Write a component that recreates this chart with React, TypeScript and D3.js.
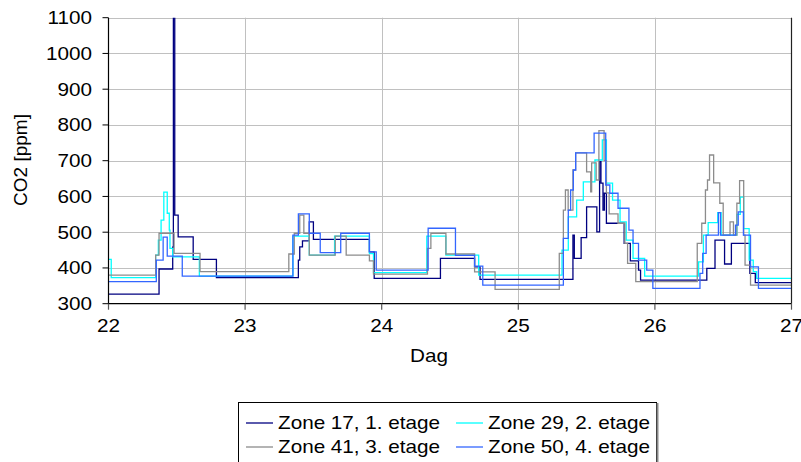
import React from "react";
import * as d3 from "d3";

// ---- data ----
const dayTicks = [22, 23, 24, 25, 26, 27];
const ppmTicks = [300, 400, 500, 600, 700, 800, 900, 1000, 1100];

const seriesNames = [
  "Zone 17, 1. etage",
  "Zone 29, 2. etage",
  "Zone 41, 3. etage",
  "Zone 50, 4. etage",
];
const seriesColors = ["#000080", "#00ffff", "#8c8c8c", "#3366ff"];

const zone17: [number, number][] = [
  [22.0, 327], [22.37, 397], [22.47, 458], [22.475, 1180], [22.485, 548], [22.51, 487],
  [22.62, 424], [22.79, 373], [23.39, 422], [23.4, 459], [23.42, 476], [23.47, 529],
  [23.5, 480], [23.91, 445], [23.945, 371], [24.43, 427], [24.68, 403], [24.72, 368],
  [25.4, 492], [25.41, 427], [25.46, 485], [25.5, 571], [25.575, 501], [25.595, 697],
  [25.605, 637], [25.62, 562], [25.63, 609], [25.645, 525], [25.775, 469], [25.82, 420],
  [25.88, 394], [25.895, 366], [26.38, 399], [26.44, 478], [26.51, 411], [26.56, 469],
  [26.695, 385], [26.735, 359], [27.0, 359],
];
const zone29: [number, number][] = [
  [22.0, 424], [22.02, 373], [22.345, 436], [22.365, 478], [22.385, 534], [22.405, 612],
  [22.43, 553], [22.445, 506], [22.45, 455], [22.47, 431], [22.665, 377], [23.35, 489],
  [23.47, 436], [23.655, 489], [23.91, 440], [23.94, 387], [24.33, 489], [24.47, 436],
  [24.71, 380], [25.32, 450], [25.366, 543], [25.427, 590], [25.476, 641], [25.561, 702],
  [25.615, 758], [25.645, 637], [25.69, 590], [25.745, 529], [25.79, 478], [25.84, 427],
  [25.925, 377], [26.32, 417], [26.355, 492], [26.39, 527], [26.46, 555], [26.485, 492],
  [26.6, 550], [26.625, 598], [26.65, 510], [26.69, 422], [26.72, 390], [26.745, 371],
  [27.0, 371],
];
const zone41: [number, number][] = [
  [22.0, 380], [22.345, 436], [22.37, 497], [22.48, 441], [22.67, 390], [23.32, 439],
  [23.36, 497], [23.4, 548], [23.43, 497], [23.47, 436], [23.66, 489], [23.74, 436],
  [23.91, 420], [23.94, 383], [24.335, 455], [24.36, 497], [24.47, 439], [24.68, 389],
  [24.83, 340], [25.3, 441], [25.33, 562], [25.345, 618], [25.365, 562], [25.4, 674],
  [25.42, 722], [25.5, 669], [25.53, 613], [25.537, 694], [25.57, 646], [25.59, 784],
  [25.628, 700], [25.645, 610], [25.665, 551], [25.73, 525], [25.78, 469], [25.8, 413],
  [25.86, 362], [26.31, 469], [26.343, 525], [26.37, 618], [26.385, 646], [26.4, 716],
  [26.43, 638], [26.475, 581], [26.5, 492], [26.55, 529], [26.575, 492], [26.6, 581],
  [26.62, 644], [26.65, 492], [26.66, 408], [26.7, 352], [27.0, 352],
];
const zone50: [number, number][] = [
  [22.0, 362], [22.35, 422], [22.4, 486], [22.43, 433], [22.54, 377], [23.35, 492],
  [23.39, 551], [23.47, 497], [23.55, 443], [23.7, 497], [23.91, 445], [23.96, 394],
  [24.34, 511], [24.54, 435], [24.68, 405], [24.74, 352], [25.33, 483], [25.366, 562],
  [25.383, 618], [25.403, 674], [25.42, 722], [25.555, 777], [25.64, 632], [25.67, 609],
  [25.73, 567], [25.81, 506], [25.84, 469], [25.88, 422], [25.94, 394], [25.985, 343],
  [26.33, 385], [26.35, 441], [26.375, 492], [26.465, 555], [26.48, 492], [26.59, 520],
  [26.61, 557], [26.648, 492], [26.7, 403], [26.758, 343], [27.0, 343],
];
const allSeries = [zone17, zone29, zone41, zone50];

// ---- layout ----
const W = 801;
const H = 462;
const left = 108.5;
const right = 791.5;
const top = 17.7;
const bottom = 303.7;
const FS = 18;
const SX = 1.15;
const FONT = "Liberation Sans, Arial, sans-serif";

function T(props: { x: number; y: number; anchor?: string; children: any; rotate?: boolean; size?: number }) {
  const { x, y, anchor = "start", children, rotate, size = FS } = props;
  const tf = rotate
    ? `translate(${x},${y}) rotate(-90)`
    : `translate(${x},${y}) scale(${SX},1)`;
  return (
    <text transform={tf} textAnchor={anchor} dominantBaseline="central" fontFamily={FONT} fontSize={size} fill="#000">
      {children}
    </text>
  );
}

export default function App() {
  const x = d3.scaleLinear().domain([22, 27]).range([left, right]);
  const y = d3.scaleLinear().domain([300, 1100]).range([bottom, top]);
  const line = d3
    .line<[number, number]>()
    .x((d) => x(d[0]))
    .y((d) => y(d[1]))
    .curve(d3.curveStepAfter);

  const legendItems = [
    { i: 0, lx: 246, ly: 423 },
    { i: 1, lx: 456, ly: 423 },
    { i: 2, lx: 246, ly: 447 },
    { i: 3, lx: 456, ly: 447 },
  ];

  return (
    <svg width={W} height={H} style={{ position: "absolute", left: 0, top: 0, background: "#fff" }}>
      <defs>
        <clipPath id="plotclip">
          <rect x={left} y={top} width={right - left} height={bottom - top} />
        </clipPath>
      </defs>
      {/* grid */}
      {ppmTicks.filter((t) => t > 300).map((t) => (
        <line key={"gy" + t} x1={left} x2={right} y1={Math.round(y(t)) + 0.5} y2={Math.round(y(t)) + 0.5} stroke="#c0c0c0" strokeWidth={1} />
      ))}
      {dayTicks.filter((t) => t > 22 && t < 27).map((t) => (
        <line key={"gx" + t} x1={Math.round(x(t)) + 0.5} x2={Math.round(x(t)) + 0.5} y1={top} y2={bottom} stroke="#c0c0c0" strokeWidth={1} />
      ))}
      {/* series */}
      <g clipPath="url(#plotclip)">
        {allSeries.map((s, i) => (
          <path key={i} d={line(s) || ""} fill="none" stroke={seriesColors[i]} strokeWidth={1.3} />
        ))}
      </g>
      {/* axes */}
      <line x1={left} x2={left} y1={top} y2={bottom + 0.5} stroke="#000" strokeWidth={1.2} />
      <line x1={left} x2={right} y1={bottom} y2={bottom} stroke="#000" strokeWidth={1.2} />
      <line x1={right} x2={right} y1={top} y2={bottom} stroke="#222" strokeWidth={1.2} />
      {ppmTicks.map((t) => (
        <line key={"ty" + t} x1={left - 6} x2={left} y1={y(t)} y2={y(t)} stroke="#000" strokeWidth={1} />
      ))}
      {dayTicks.map((t) => (
        <line key={"tx" + t} x1={x(t)} x2={x(t)} y1={bottom} y2={bottom + 6} stroke="#555" strokeWidth={1.2} />
      ))}
      {ppmTicks.map((t) => (
        <T key={"ly" + t} x={92} y={y(t)} anchor="end">{t}</T>
      ))}
      {dayTicks.map((t) => (
        <T key={"lx" + t} x={x(t)} y={326} anchor="middle">{t}</T>
      ))}
      <T x={429} y={356} anchor="middle">Dag</T>
      <T x={20} y={160} anchor="middle" rotate size={19}>CO2 [ppm]</T>
      {/* legend */}
      <rect x={238.5} y={402.5} width={418} height={80} fill="#fff" stroke="#000" strokeWidth={1} />
      <line x1={657.5} x2={657.5} y1={403} y2={H} stroke="#888" strokeWidth={2} />
      {legendItems.map((it) => (
        <g key={"lg" + it.i}>
          <line x1={it.lx} x2={it.lx + 27} y1={it.ly} y2={it.ly} stroke={seriesColors[it.i]} strokeWidth={1.3} />
          <T x={it.lx + 32} y={it.ly}>{seriesNames[it.i]}</T>
        </g>
      ))}
    </svg>
  );
}
